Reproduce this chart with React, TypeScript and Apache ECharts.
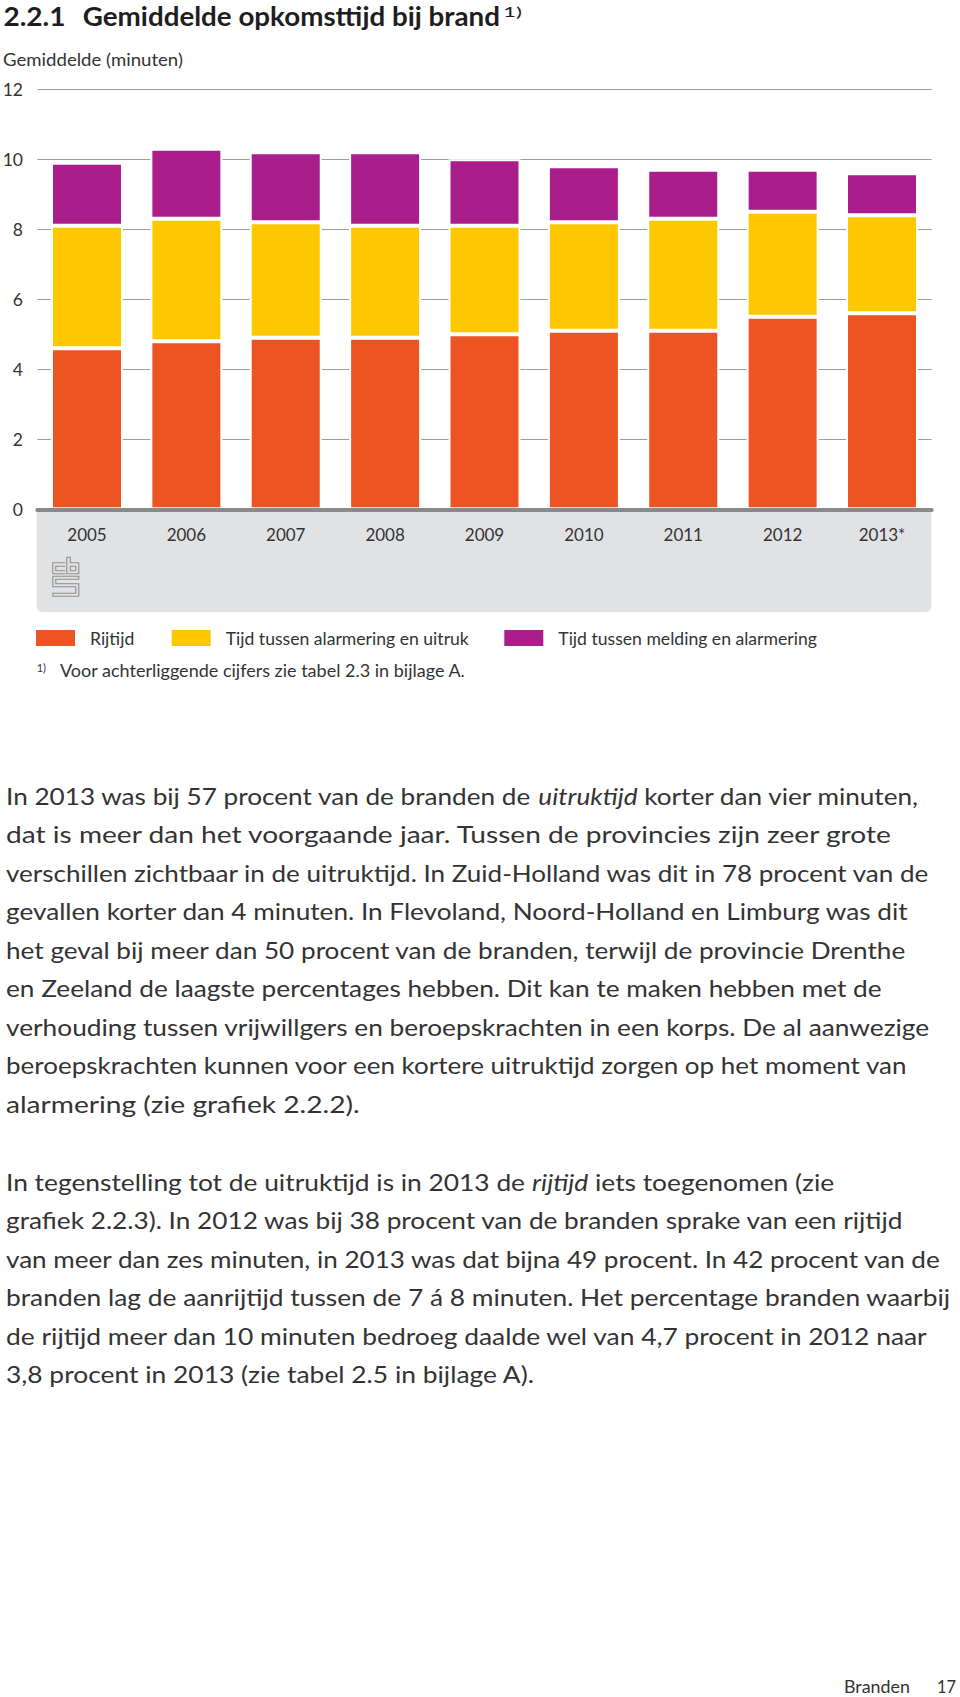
import React, { useEffect, useRef } from 'react';
import * as echarts from 'echarts';

// ---------- data ----------
const years = ['2005', '2006', '2007', '2008', '2009', '2010', '2011', '2012', '2013*'];
const rijtijd = [4.6, 4.8, 4.9, 4.9, 5.0, 5.1, 5.1, 5.5, 5.6];
const alarmeringUitruk = [3.5, 3.5, 3.3, 3.2, 3.1, 3.1, 3.2, 3.0, 2.8];
const meldingAlarmering = [1.8, 2.0, 2.0, 2.1, 1.9, 1.6, 1.4, 1.2, 1.2];
const yTicks = [0, 2, 4, 6, 8, 10, 12];
const seriesNames = ['Rijtijd', 'Tijd tussen alarmering en uitruk', 'Tijd tussen melding en alarmering'];
const seriesColors = ['#EC5424', '#FDC800', '#AA1E8C'];

// ---------- texts ----------
const TITLE_NUM = '2.2.1';
const TITLE = 'Gemiddelde opkomsttijd bij brand';
const Y_NAME = 'Gemiddelde (minuten)';
const FOOTNOTE = 'Voor achterliggende cijfers zie tabel 2.3 in bijlage A.';
const PARA1 = [
  'In 2013 was bij 57 procent van de branden de _uitruktijd_ korter dan vier minuten,',
  'dat is meer dan het voorgaande jaar. Tussen de provincies zijn zeer grote',
  'verschillen zichtbaar in de uitruktijd. In Zuid-Holland was dit in 78 procent van de',
  'gevallen korter dan 4 minuten. In Flevoland, Noord-Holland en Limburg was dit',
  'het geval bij meer dan 50 procent van de branden, terwijl de provincie Drenthe',
  'en Zeeland de laagste percentages hebben. Dit kan te maken hebben met de',
  'verhouding tussen vrijwillgers en beroepskrachten in een korps. De al aanwezige',
  'beroepskrachten kunnen voor een kortere uitruktijd zorgen op het moment van',
  'alarmering (zie grafiek 2.2.2).',
];
const PARA2 = [
  'In tegenstelling tot de uitruktijd is in 2013 de _rijtijd_ iets toegenomen (zie',
  'grafiek 2.2.3). In 2012 was bij 38 procent van de branden sprake van een rijtijd',
  'van meer dan zes minuten, in 2013 was dat bijna 49 procent. In 42 procent van de',
  'branden lag de aanrijtijd tussen de 7 á 8 minuten. Het percentage branden waarbij',
  'de rijtijd meer dan 10 minuten bedroeg daalde wel van 4,7 procent in 2012 naar',
  '3,8 procent in 2013 (zie tabel 2.5 in bijlage A).',
];
const FOOTER_SECTION = 'Branden';
const FOOTER_PAGE = '17';

// ---------- layout (positions / styles) ----------
const FONT = 'Lato';
const TEXT_COLOR = '#333333';
const PARA1_RIGHT = [920, 894, 930, 909, 907, 882, 930, 909, 360];
const PARA2_RIGHT = [834, 905, 942, 951, 929, 535];
const LEGEND_LEFT = [36, 171.7, 504.3];

const LOGO_D =
  'M13,6 H0.5 V17 H13 M13,9.5 H3.5 V14 H13 ' +
  'M14.5,0.5 H18 V6 H26.5 V17 H14.5 Z M18,9.5 H23.5 V14 H18 Z ' +
  'M0.5,19.5 H26.5 V22.5 H3.5 V27 H26.5 V39.5 H0.5 V36.5 H23.5 V30 H0.5 Z';
try {
  echarts.graphic.registerShape('cbsLogo', echarts.graphic.extendPath(LOGO_D, {}));
} catch (e) {
  /* ignore */
}

let measureCtx: CanvasRenderingContext2D | null = null;
function measure(text: string, size: number, weight = 'normal', style = 'normal') {
  if (!measureCtx) measureCtx = document.createElement('canvas').getContext('2d');
  if (!measureCtx) return text.length * size * 0.5;
  measureCtx.font = `${style} ${weight} ${size}px ${FONT}`;
  return measureCtx.measureText(text).width;
}

function fitText(text: string, x: number, y: number, right: number | null, size: number, weight = 'normal', color = TEXT_COLOR) {
  const w = measure(text, size, weight);
  const sx = right ? (right - x) / w : 1;
  return {
    type: 'text',
    x,
    y,
    scaleX: sx,
    z: 10,
    style: {
      text,
      fontFamily: FONT,
      fontSize: size,
      fontWeight: weight,
      fill: color,
      align: 'left',
      textAlign: 'left',
      verticalAlign: 'middle',
      textVerticalAlign: 'middle',
    },
  };
}

function richLine(str: string, x: number, y: number, right: number, size: number) {
  const parts = str.split('_');
  let w = 0;
  let text = '';
  parts.forEach((p, i) => {
    if (!p) return;
    const it = i % 2 === 1;
    w += measure(p, size, 'normal', it ? 'italic' : 'normal');
    text += `{${it ? 'i' : 'n'}|${p}}`;
  });
  return {
    type: 'text',
    x,
    y,
    scaleX: (right - x) / w,
    z: 10,
    style: {
      text,
      fontFamily: FONT,
      fontSize: size,
      fill: TEXT_COLOR,
      align: 'left',
      textAlign: 'left',
      verticalAlign: 'middle',
      textVerticalAlign: 'middle',
      rich: {
        n: { fontFamily: FONT, fontSize: size, fill: TEXT_COLOR, color: TEXT_COLOR },
        i: { fontFamily: FONT, fontSize: size, fontStyle: 'italic', fill: TEXT_COLOR, color: TEXT_COLOR },
      },
    },
  };
}

export default function App() {
  const ref = useRef<HTMLDivElement>(null);

  useEffect(() => {
    if (!ref.current) return;
    const chart = echarts.init(ref.current, null, { renderer: 'svg' });

    const gridLeft = 37.3;
    const gridTop = 89.3;
    const gridWidth = 894.4;
    const gridHeight = 420;
    const bodyX = 6;
    const bodySize = 24;
    const lineStep = 38.55;

    const graphics: any[] = [];
    // grey panel beneath the axis
    graphics.push({
      type: 'rect',
      z: 0,
      shape: { x: 36.7, y: 509, width: 894.6, height: 103.3, r: [0, 0, 6, 6] },
      style: { fill: '#e1e2e4' },
    });
    graphics.push({
      type: 'cbsLogo',
      x: 52.3,
      y: 556.7,
      z: 5,
      style: { fill: 'none', stroke: '#8e8e8e', lineWidth: 1.1 },
    });
    // title
    graphics.push(fitText(TITLE_NUM, 3.4, 15.3, 65.5, 27, 'bold', '#1e1e1e'));
    graphics.push(fitText(TITLE, 82.8, 15.3, 500, 27, 'bold', '#1e1e1e'));
    graphics.push(fitText('1)', 503, 12.5, 522, 13, 'normal', '#1e1e1e'));
    graphics.push(fitText(Y_NAME, 3, 59.3, 183, 18));
    // footnote
    graphics.push(fitText('1)', 36.7, 667, 46, 11));
    graphics.push(fitText(FOOTNOTE, 60, 670, 466, 18));
    // paragraphs
    PARA1.forEach((l, i) => graphics.push(richLine(l, bodyX, 795 + i * lineStep, PARA1_RIGHT[i], bodySize)));
    PARA2.forEach((l, i) => graphics.push(richLine(l, bodyX, 1181 + i * lineStep, PARA2_RIGHT[i], bodySize)));
    // page footer
    graphics.push(fitText(FOOTER_SECTION, 844, 1687, 910, 17));
    graphics.push(fitText(FOOTER_PAGE, 937, 1687, 956, 17));

    const values = [rijtijd, alarmeringUitruk, meldingAlarmering];

    chart.setOption({
      animation: false,
      backgroundColor: '#ffffff',
      textStyle: { fontFamily: FONT },
      grid: {
        left: gridLeft,
        top: gridTop,
        width: gridWidth,
        height: gridHeight,
        containLabel: false,
        outerBoundsMode: 'none',
      },
      legend: seriesNames.map((name, i) => ({
        data: [name],
        left: LEGEND_LEFT[i],
        top: 629,
        padding: 0,
        itemGap: 0,
        itemWidth: 39,
        itemHeight: 16,
        icon: 'rect',
        selectedMode: false,
        itemStyle: { borderWidth: 0 },
        textStyle: { fontFamily: FONT, fontSize: 17.6, color: TEXT_COLOR, padding: [0, 0, 0, 10] },
      })),
      xAxis: {
        type: 'category',
        data: years,
        z: 6,
        axisLine: { show: true, lineStyle: { color: '#8a8a8a', width: 4 } },
        axisTick: { show: false },
        splitLine: { show: false },
        axisLabel: {
          margin: 25.4,
          verticalAlign: 'middle',
          fontFamily: FONT,
          fontSize: 17,
          color: TEXT_COLOR,
          interval: 0,
        },
      },
      yAxis: {
        type: 'value',
        min: yTicks[0],
        max: yTicks[yTicks.length - 1],
        interval: yTicks[1] - yTicks[0],
        axisLine: { show: false },
        axisTick: { show: false },
        splitLine: { show: true, lineStyle: { color: '#9d9d9d', width: 1 } },
        axisLabel: {
          margin: 14.3,
          fontFamily: FONT,
          fontSize: 17.5,
          color: TEXT_COLOR,
          showMinLabel: true,
          showMaxLabel: true,
        },
      },
      series: seriesNames.map((name, i) => ({
        name,
        type: 'bar',
        stack: 'total',
        barWidth: 72,
        data: values[i],
        itemStyle: { color: seriesColors[i], borderColor: '#ffffff', borderWidth: 2 },
        emphasis: { disabled: true },
      })),
      graphic: graphics,
    });

    return () => chart.dispose();
  }, []);

  return (
    <div
      ref={ref}
      style={{ position: 'absolute', left: 0, top: 0, width: 960, height: 1697, background: '#fff' }}
    />
  );
}
